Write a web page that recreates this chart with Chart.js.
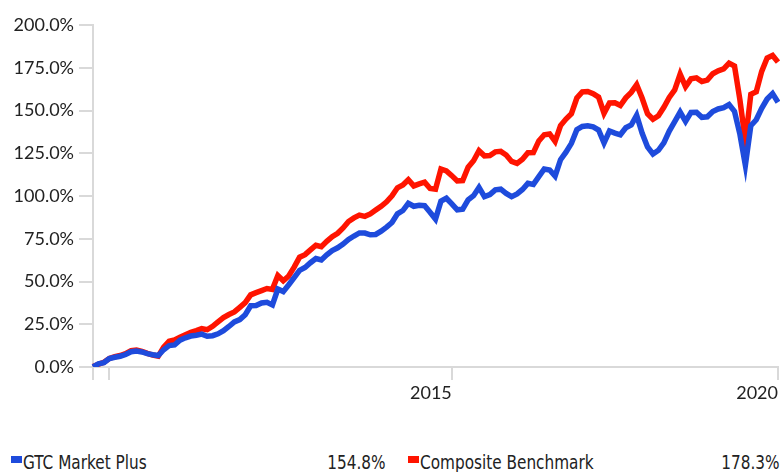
<!DOCTYPE html>
<html>

<head>
    <title>GTC Market Plus vs Composite Benchmark</title>
    <script src="https://cdn.jsdelivr.net/npm/chart.js"></script>
    <style>
        body { margin: 0; background: #fff; }
        #wrap { position: relative; width: 780px; height: 472px; }
        #chartBox { position: absolute; left: 0; top: 0; width: 780px; height: 400px; }
        .legend { position: absolute; top: 451px; font-family: "Liberation Sans Narrow", "DejaVu Sans Condensed", sans-serif; font-size: 20px; line-height: 22px; color: #222; white-space: nowrap; transform: scaleX(0.85); transform-origin: left center; }
        .legend.num { transform-origin: right center; }
        .swatch { position: absolute; top: 456px; width: 11px; height: 7px; }
    </style>
</head>

<body>
    <div id="wrap">
        <div id="chartBox"><canvas id="myChart" width="780" height="400"></canvas></div>
        <div class="swatch" style="left:11px; background:#1e4bdc;"></div>
        <div class="legend" style="left:23px;">GTC Market Plus</div>
        <div class="legend num" style="right:394px;">154.8%</div>
        <div class="swatch" style="left:408px; background:#ff1400;"></div>
        <div class="legend" style="left:420px;">Composite Benchmark</div>
        <div class="legend num" style="right:0px;">178.3%</div>
    </div>
    <script>
        // cumulative return (%), monthly, Mar 2010 .. Sep 2020
        const gtcMarketPlus = [
            0.0, 1.8, 2.5, 4.9, 5.7, 6.3, 7.3, 8.9, 9.3, 8.8, 7.8, 7.2, 6.7,
            10.1, 12.5, 12.9, 15.7, 17.1, 18.1, 18.6, 19.2, 18.0, 18.3, 19.4, 21.2,
            23.7, 26.4, 27.7, 30.6, 35.8, 35.9, 37.4, 37.8, 36.3, 45.6, 44.1, 48.1,
            52.3, 56.5, 58.2, 61.0, 63.4, 62.6, 65.6, 68.1, 69.7, 71.9, 74.6, 76.6,
            78.4, 78.3, 77.3, 77.5, 79.4, 81.8, 84.5, 89.6, 91.5, 95.7, 94.0, 94.6,
            94.3, 90.5, 86.5, 97.0, 98.7, 95.4, 91.9, 92.3, 97.7, 100.2, 105.0, 99.6,
            100.8, 103.6, 104.0, 101.5, 99.6, 101.2, 103.8, 107.4, 106.8, 111.3, 115.8, 115.2,
            111.6, 121.2, 125.6, 130.8, 138.8, 140.7, 141.1, 140.4, 138.6, 131.0, 138.0, 136.8,
            135.8, 139.9, 141.5, 147.2, 136.8, 128.7, 124.6, 126.7, 131.1, 138.0, 143.5, 149.1,
            143.6, 148.9, 149.0, 146.0, 146.3, 149.4, 150.9, 151.7, 153.5, 149.5, 136.0, 118.0,
            141.1, 144.6, 151.3, 156.7, 159.9, 154.8
        ];
        const compositeBenchmark = [
            0.3, 1.6, 2.8, 5.0, 6.0, 6.7, 7.8, 9.6, 9.9, 9.2, 8.0, 7.0, 6.3,
            11.6, 15.1, 15.8, 17.4, 18.9, 20.3, 21.3, 22.4, 21.8, 23.8, 26.4, 28.9,
            30.7, 32.2, 34.9, 37.7, 42.2, 43.5, 44.7, 45.9, 45.4, 53.5, 50.4, 53.2,
            58.4, 64.2, 65.7, 68.5, 71.2, 70.4, 73.5, 76.2, 78.2, 81.3, 85.1, 87.2,
            88.8, 88.1, 89.5, 91.8, 94.0, 96.6, 100.1, 104.8, 106.4, 109.5, 105.9, 107.1,
            108.1, 104.4, 104.0, 115.8, 114.7, 111.9, 108.8, 109.0, 116.8, 120.6, 126.5, 123.5,
            123.7, 125.8, 126.1, 124.0, 120.2, 119.1, 121.5, 125.3, 125.4, 132.2, 135.8, 136.3,
            131.9, 141.2, 145.0, 148.1, 157.3, 160.9, 161.1, 159.8, 157.8, 148.4, 154.4, 154.5,
            152.9, 157.4, 160.6, 165.1, 157.3, 148.1, 144.9, 146.9, 151.9, 157.6, 162.0, 171.3,
            164.0, 168.5, 169.1, 167.0, 167.8, 171.5, 173.2, 174.3, 177.7, 176.0, 156.1, 132.0,
            159.5, 161.0, 172.9, 180.7, 182.2, 178.3
        ];
        const monthLabels = [];
        for (let i = 0; i < gtcMarketPlus.length; i++) {
            const m = 2 + i; // March 2010 = month index 2
            const y = 2010 + Math.floor(m / 12);
            monthLabels.push(y + '-' + String(m % 12 + 1).padStart(2, '0'));
        }
        // which months get a tick on the x axis, and what text
        const xTickText = { 0: '', 3: '', 66: '2015', 126: '2020' };
        const yTicks = [0, 25, 50, 75, 100, 125, 150, 175, 200];

        const axisGrey = '#d9d9d9';
        const tickFont = { family: 'Lato, "Open Sans", sans-serif', size: 18 };

        const ctx = document.getElementById('myChart').getContext('2d');
        new Chart(ctx, {
            type: 'line',
            data: {
                labels: monthLabels,
                datasets: [{
                    label: 'GTC Market Plus',
                    data: gtcMarketPlus,
                    borderColor: '#1e4bdc',
                    borderWidth: 5.5,
                    pointRadius: 0,
                    fill: false
                }, {
                    label: 'Composite Benchmark',
                    data: compositeBenchmark,
                    borderColor: '#ff1400',
                    borderWidth: 5.5,
                    pointRadius: 0,
                    fill: false
                }]
            },
            options: {
                responsive: false,
                animation: false,
                layout: { padding: { top: 25, right: 1, left: 0, bottom: 0 } },
                plugins: { legend: { display: false }, tooltip: { enabled: false } },
                scales: {
                    x: {
                        type: 'category',
                        offset: false,
                        afterFit: s => { s.height = 33; },
                        grid: { drawOnChartArea: false, tickLength: 13, color: axisGrey, lineWidth: 2 },
                        border: { display: true, color: axisGrey, width: 2 },
                        ticks: {
                            autoSkip: false,
                            maxRotation: 0,
                            align: 'end',
                            padding: 2,
                            color: '#222',
                            font: tickFont,
                            callback: (v, i) => (i in xTickText ? xTickText[i] : null)
                        }
                    },
                    y: {
                        min: 0,
                        max: 200,
                        afterFit: s => { s.width = 93; },
                        afterBuildTicks: s => { s.ticks = yTicks.map(v => ({ value: v })); },
                        grid: { drawOnChartArea: false, tickLength: 14, color: axisGrey, lineWidth: 2 },
                        border: { display: true, color: axisGrey, width: 2 },
                        ticks: {
                            padding: 5,
                            color: '#222',
                            font: tickFont,
                            callback: v => v.toFixed(1) + '%'
                        }
                    }
                }
            }
        });
    </script>
</body>

</html>
